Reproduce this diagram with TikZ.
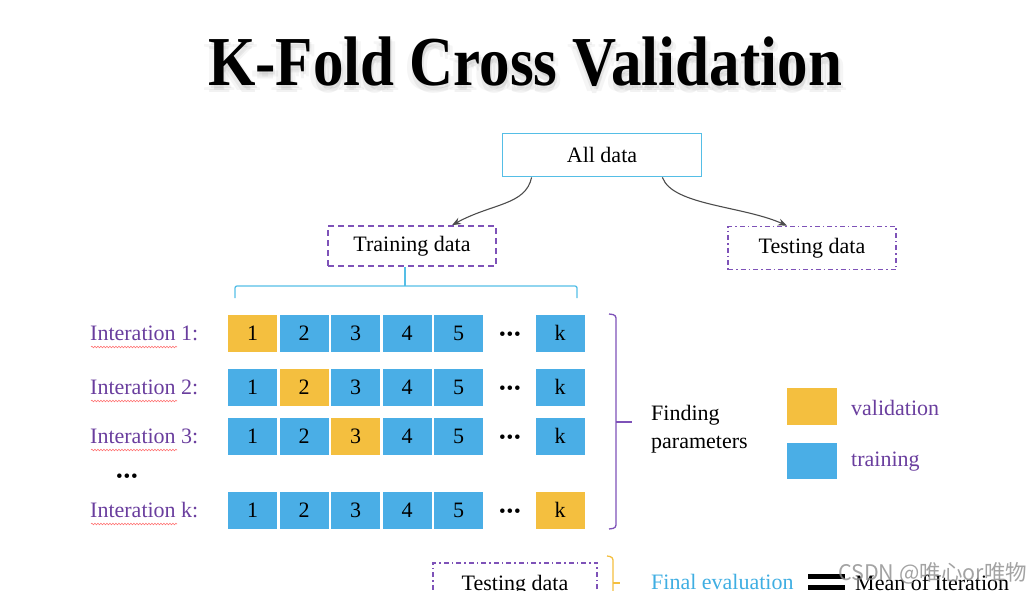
\documentclass[tikz,border=0pt]{standalone}
\usepackage{fontspec}
\setmainfont{Liberation Serif}
\newfontfamily\cjkfont{Noto Sans CJK SC}
\usetikzlibrary{arrows.meta,decorations.pathmorphing}
\definecolor{cellblue}{HTML}{4AAEE6}
\definecolor{cellyellow}{HTML}{F4BF3F}
\definecolor{boxcyan}{HTML}{55BEE6}
\definecolor{purp}{HTML}{6A3E9E}
\definecolor{dpurp}{HTML}{7E52B8}
\definecolor{evalcyan}{HTML}{3FAEE2}
\tikzset{
  txt/.style={font=\fontsize{22}{26}\selectfont, inner sep=0pt},
  cell/.style={txt, minimum width=49pt, minimum height=37pt, fill=cellblue},
  vcell/.style={cell, fill=cellyellow},
  iterlbl/.style={txt, text=purp, anchor=west},
  dotsn/.style={inner sep=0pt, font=\fontsize{19}{19}\selectfont},
  dashbox/.style={draw=dpurp, line width=1.6pt, dash pattern=on 6pt off 4pt},
  dotbox/.style={draw=dpurp, line width=1.6pt, dash pattern=on 5pt off 3pt on 1.5pt off 3pt},
  conn/.style={draw=black!70, line width=1.1pt, -{Stealth[length=9pt,width=7pt]}},
  squiggle/.style={draw=red!55, line width=0.6pt, decorate, decoration={snake, amplitude=0.8pt, segment length=3pt}}
}
\newcommand{\ttl}{\scalebox{1}[1.15]{\fontsize{61}{70}\selectfont\bfseries K-Fold Cross Validation}}
\newcommand{\threedots}{•\kern0.8pt•\kern0.8pt•}
\begin{document}
\begin{tikzpicture}[x=1pt,y=-1pt]
\path[use as bounding box] (0,0) rectangle (1035,591);
\clip (0,0) rectangle (1035,591);
% title with soft glow
\foreach \dx/\dy/\op in {0/7/0.05,5/5/0.04,-5/5/0.04,2/3/0.06}{
  \node[inner sep=0pt, text=black, opacity=\op] at (525+\dx,62+\dy) {\ttl};
}
\node[inner sep=0pt] (title) at (525,62) {\ttl};

% top boxes
\node[txt, draw=boxcyan, line width=1.8pt, minimum width=199pt, minimum height=43pt] (all) at (602,155) {All data};
\node[txt, dashbox, minimum width=168pt, minimum height=40pt] (train) at (412,246) {Training data};
\node[txt, dotbox, minimum width=168pt, minimum height=43pt] (test) at (812,248) {Testing data};

\draw[conn] ([xshift=30pt]all.south west) .. controls +(-6,28) and +(40,-22) .. ([xshift=40pt]train.north);
\draw[conn] ([xshift=-40pt]all.south east) .. controls +(10,28) and +(-45,-20) .. ([xshift=-25pt]test.north);

% brace under training data
\coordinate (bl) at (235,298);
\coordinate (br) at (577,298);
\draw[boxcyan, line width=1.3pt, rounded corners=2pt] (bl) -- (235,286) -- (577,286) -- (br);
\draw[boxcyan, line width=1.3pt] ([xshift=-7pt]train.south) -- ([xshift=-7pt]train.south |- 0,286);

% rows
\foreach \r/\y/\lab/\v in {1/333/1/1, 2/387/2/2, 3/436/3/3, 4/510/k/6}{
  \node[iterlbl] (lab\r) at (90,\y) {Interation \lab:};
  \draw[squiggle] (91,\y+14) -- (177,\y+14);
  \foreach \c/\x/\t in {1/252.5/1, 2/304/2, 3/355.5/3, 4/407/4, 5/458.5/5, 6/560/k}{
    \ifnum\c=\v
      \node[vcell] (c\r\c) at (\x,\y) {\t};
    \else
      \node[cell] (c\r\c) at (\x,\y) {\t};
    \fi
  }
  \node[dotsn] (dots\r) at (510,\y+3) {\threedots};
}
\node[dotsn] (vdots) at (127,478) {\threedots};

% purple bracket
\draw[dpurp, line width=1.3pt, rounded corners=3pt] (609,314) -- (616,315) -- (616,528) -- (609,529);
\coordinate (ptick) at (632,422);
\draw[dpurp, line width=1.3pt] (616,422) -- (ptick);
\node[txt, anchor=west, align=left, font=\fontsize{22}{28}\selectfont] (find) at (651,429) {Finding\\parameters};

% legend
\node[fill=cellyellow, minimum width=50pt, minimum height=37pt, inner sep=0pt] (legv) at (812,406.5) {};
\node[fill=cellblue, minimum width=50pt, minimum height=36pt, inner sep=0pt] (legt) at (812,461) {};
\node[txt, text=purp, anchor=west] (legvl) at (851,408) {validation};
\node[txt, text=purp, anchor=west] (legtl) at (851,462) {training};

% bottom
\node[txt, dotbox, minimum width=164pt, minimum height=50pt, anchor=north] (test2) at (515,562) {};
\node[txt] (test2l) at (515,585) {Testing data};
\draw[cellyellow, line width=1.3pt, rounded corners=3pt] (607,556) -- (613,557) -- (613,600);
\coordinate (ytick) at (620,583);
\draw[cellyellow, line width=1.3pt] (613,583) -- (ytick);
\node[txt, text=evalcyan, anchor=west] (final) at (651,582) {Final evaluation};
\fill (808,574) rectangle (845,579);
\fill (808,585) rectangle (845,590);
\node[txt, anchor=west] (mean) at (855,583) {Mean of Iteration};
\node[inner sep=0pt, anchor=west, text=black!45, opacity=0.8, font=\cjkfont\fontsize{21.5}{23}\selectfont] (wm) at (838,573) {CSDN @唯心or唯物};
\end{tikzpicture}
\end{document}
